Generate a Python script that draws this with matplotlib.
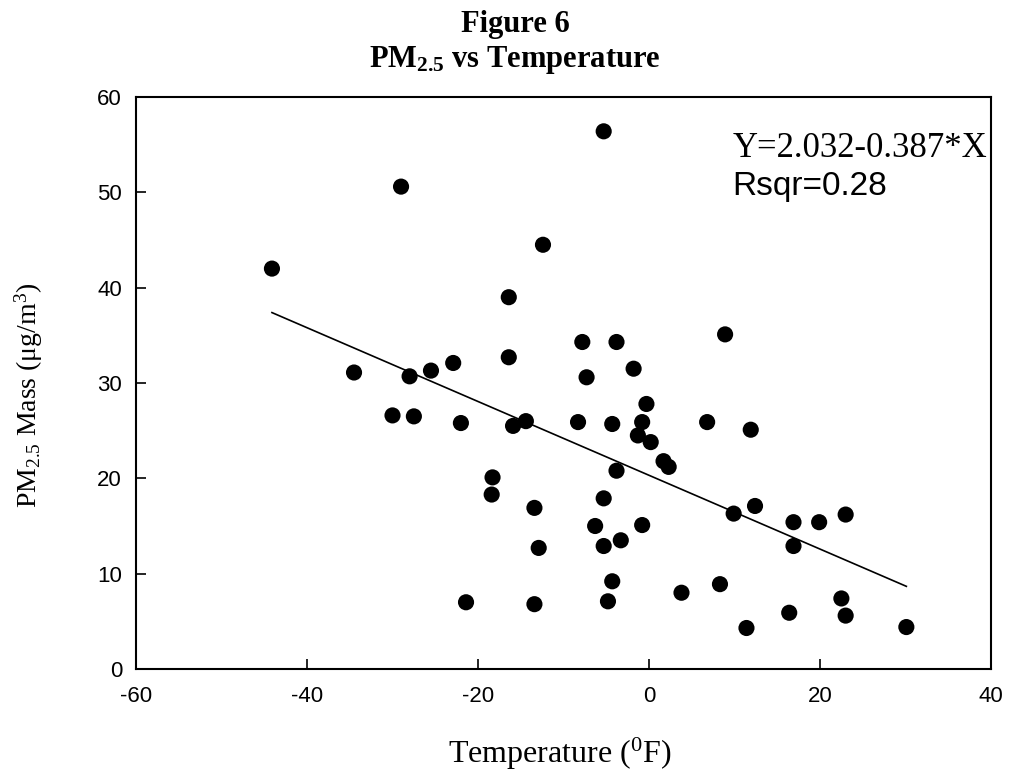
import matplotlib
matplotlib.use("Agg")
import matplotlib.pyplot as plt
import numpy as np

# Data
temperature = [-44.1, -29.0, -34.5, -28.0, -25.5, -22.9, -30.0, -27.5, -22.0, -18.3,
               -18.4, -21.4, -5.3, -12.4, -16.4, -16.4, -7.8, -3.8, -7.3, -1.8,
               -0.3, -14.4, -15.9, -8.3, -4.3, -0.8, -1.3, 0.2, 1.7, 2.3,
               -3.8, 6.8, 8.9, -13.4, -12.9, -5.3, -6.3, -5.3, -3.3, -0.8,
               -4.3, -4.8, -13.4, 3.8, 8.3, 11.9, 9.9, 12.4, 16.9, 19.9,
               23.0, 16.9, 11.4, 16.4, 22.5, 23.0, 30.1]
pm25 = [42.0, 50.6, 31.1, 30.7, 31.3, 32.1, 26.6, 26.5, 25.8, 20.1,
        18.3, 7.0, 56.4, 44.5, 39.0, 32.7, 34.3, 34.3, 30.6, 31.5,
        27.8, 26.0, 25.5, 25.9, 25.7, 25.9, 24.5, 23.8, 21.8, 21.2,
        20.8, 25.9, 35.1, 16.9, 12.7, 17.9, 15.0, 12.9, 13.5, 15.1,
        9.2, 7.1, 6.8, 8.0, 8.9, 25.1, 16.3, 17.1, 15.4, 15.4,
        16.2, 12.9, 4.3, 5.9, 7.4, 5.6, 4.4]
fit_intercept = 20.32
fit_slope = -0.387

x_ticks = [-60, -40, -20, 0, 20, 40]
y_ticks = [0, 10, 20, 30, 40, 50, 60]

plt.rcParams['mathtext.fontset'] = 'custom'
plt.rcParams['mathtext.rm'] = 'Liberation Serif'
plt.rcParams['mathtext.it'] = 'Liberation Serif:italic'
plt.rcParams['mathtext.bf'] = 'Liberation Serif:bold'

W, H = 1011, 770
fig = plt.figure(figsize=(W / 100, H / 100), dpi=100)
ax = fig.add_axes([136 / W, 1 - 669 / H, (991 - 136) / W, (669 - 97) / H])

ax.scatter(temperature, pm25, s=135, color='black', edgecolors='none', zorder=3)

xs = np.array([min(temperature), max(temperature)])
ax.plot(xs, fit_intercept + fit_slope * xs, color='black', lw=1.2, zorder=2)

ax.set_xlim(-60, 40)
ax.set_ylim(0, 60)
ax.set_xticks(x_ticks)
ax.set_yticks(y_ticks)
ax.set_xticklabels([str(t) for t in x_ticks], family='Liberation Sans', fontsize=16)
ax.set_yticklabels([str(t) for t in y_ticks], family='Liberation Sans', fontsize=16)
ax.tick_params(direction='in', length=7, width=1.2, colors='black')
ax.tick_params(axis='x', pad=12)
ax.tick_params(axis='y', pad=10)
for sp in ax.spines.values():
    sp.set_linewidth(1.5)

fig.text(560 / W, 1 - 763 / H, r"Temperature ($^{0}$F)", ha='center', va='baseline',
         family='Liberation Serif', fontsize=23)
fig.text(29 / W, 1 - 395 / H, r"PM$_{2.5}$ Mass ($\mathrm{\mu}$g/m$^{3}$)", ha='center',
         va='center', rotation=90, family='Liberation Serif', fontsize=20)

fig.text(987 / W, 1 - 157 / H, "Y=2.032-0.387*X", ha='right', va='baseline',
         family='Liberation Serif', fontsize=25)
fig.text(732 / W, 1 - 195 / H, "Rsqr=0.28", ha='left', va='baseline',
         family='Liberation Sans', fontsize=24)

fig.text(515 / W, 1 - 32 / H, "Figure 6", ha='center', va='baseline',
         family='Liberation Serif', fontweight='bold', fontsize=22)
fig.text(515 / W, 1 - 67 / H, r"PM$_{\mathbf{2.5}}$ vs Temperature", ha='center', va='baseline',
         family='Liberation Serif', fontweight='bold', fontsize=22)

fig.savefig("out.png", dpi=100)
